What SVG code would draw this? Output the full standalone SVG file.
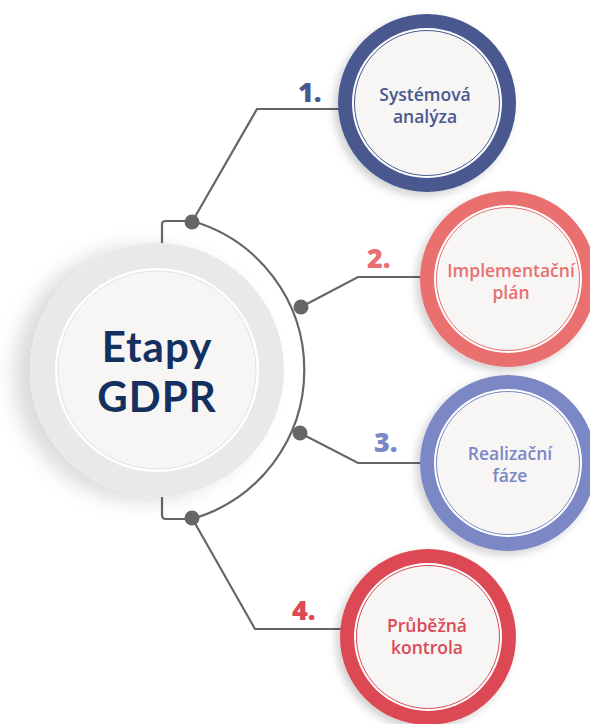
<svg xmlns="http://www.w3.org/2000/svg" width="590" height="724" viewBox="0 0 590 724">
<defs>
<filter id="sh" x="-30%" y="-30%" width="160%" height="160%"><feDropShadow dx="-4" dy="4" stdDeviation="4" flood-color="#000" flood-opacity="0.18"/></filter>
<filter id="shc" x="-40%" y="-40%" width="180%" height="180%"><feDropShadow dx="-16" dy="4" stdDeviation="10" flood-color="#000" flood-opacity="0.14"/></filter>
</defs>
<style>
.ln{fill:none;stroke:#666;stroke-width:2.2}
.dot{fill:#666}
.lbl{font-family:"Open Sans","Liberation Sans",sans-serif;font-weight:600;font-size:17.5px;text-anchor:middle}
.num{font-family:"Open Sans","Liberation Sans",sans-serif;font-weight:800;font-size:27px}
.inner{fill:#f7f6f5}
.big{font-family:Lato,"Open Sans","Liberation Sans",sans-serif;font-weight:700;font-size:42px;fill:#13305f;text-anchor:middle;letter-spacing:1px}
</style>
<rect width="590" height="724" fill="#fff"/>
<g id="connectors">
<path class="ln" d="M162,243 V224 Q162,221 166,221 H192 A155,155 0 0 1 192,519 H166 Q162,519 162,515 V497"/>
<path class="ln" d="M192,222 L257,109 H342"/>
<path class="ln" d="M301,307 L358,277 H420"/>
<path class="ln" d="M300,433 L358,463 H420"/>
<path class="ln" d="M192,518 L255,629 H342"/>
<circle class="dot" cx="192" cy="222" r="7.5"/>
<circle class="dot" cx="301" cy="307" r="7.5"/>
<circle class="dot" cx="300" cy="433" r="7.5"/>
<circle class="dot" cx="192" cy="518" r="7.5"/>
</g>
<g id="center">
<circle cx="157" cy="370" r="127" fill="#e9e9e9" filter="url(#shc)"/>
<circle cx="157" cy="370" r="102" fill="#fff"/>
<circle cx="157" cy="370" r="99" class="inner" stroke="#e2e2e2" stroke-width="1"/>
<text class="big" x="157" y="362">Etapy</text>
<text class="big" x="157" y="412">GDPR</text>
</g>
<g id="n1">
<circle cx="427" cy="103" r="89" fill="#48598e" filter="url(#sh)"/>
<circle cx="427" cy="103" r="75" fill="#fff"/>
<circle cx="427" cy="103" r="72.5" class="inner" stroke="#48598e" stroke-width="1"/>
<text class="lbl" x="425" y="101" fill="#48598e">Systémová</text>
<text class="lbl" x="425" y="123" fill="#48598e">analýza</text>
<text class="num" x="298" y="102" fill="#48598e">1.</text>
</g>
<g id="n2">
<circle cx="508" cy="279" r="88" fill="#ea6f70" filter="url(#sh)"/>
<circle cx="508" cy="279" r="74" fill="#fff"/>
<circle cx="508" cy="279" r="71.5" class="inner" stroke="#ea6f70" stroke-width="1"/>
<text class="lbl" x="511" y="277" fill="#ea6f70">Implementační</text>
<text class="lbl" x="511" y="299" fill="#ea6f70">plán</text>
<text class="num" x="367" y="268" fill="#ea6f70">2.</text>
</g>
<g id="n3">
<circle cx="508" cy="463" r="88" fill="#7b87c5" filter="url(#sh)"/>
<circle cx="508" cy="463" r="74" fill="#fff"/>
<circle cx="508" cy="463" r="71.5" class="inner" stroke="#7b87c5" stroke-width="1"/>
<text class="lbl" x="510" y="460" fill="#7b87c5">Realizační</text>
<text class="lbl" x="510" y="482" fill="#7b87c5">fáze</text>
<text class="num" x="374" y="452" fill="#7b87c5">3.</text>
</g>
<g id="n4">
<circle cx="428" cy="637" r="88" fill="#dc4a55" filter="url(#sh)"/>
<circle cx="428" cy="637" r="74" fill="#fff"/>
<circle cx="428" cy="637" r="71.5" class="inner" stroke="#dc4a55" stroke-width="1"/>
<text class="lbl" x="427" y="632" fill="#dc4a55">Průběžná</text>
<text class="lbl" x="427" y="654" fill="#dc4a55">kontrola</text>
<text class="num" x="292" y="620" fill="#dc4a55">4.</text>
</g>
</svg>
